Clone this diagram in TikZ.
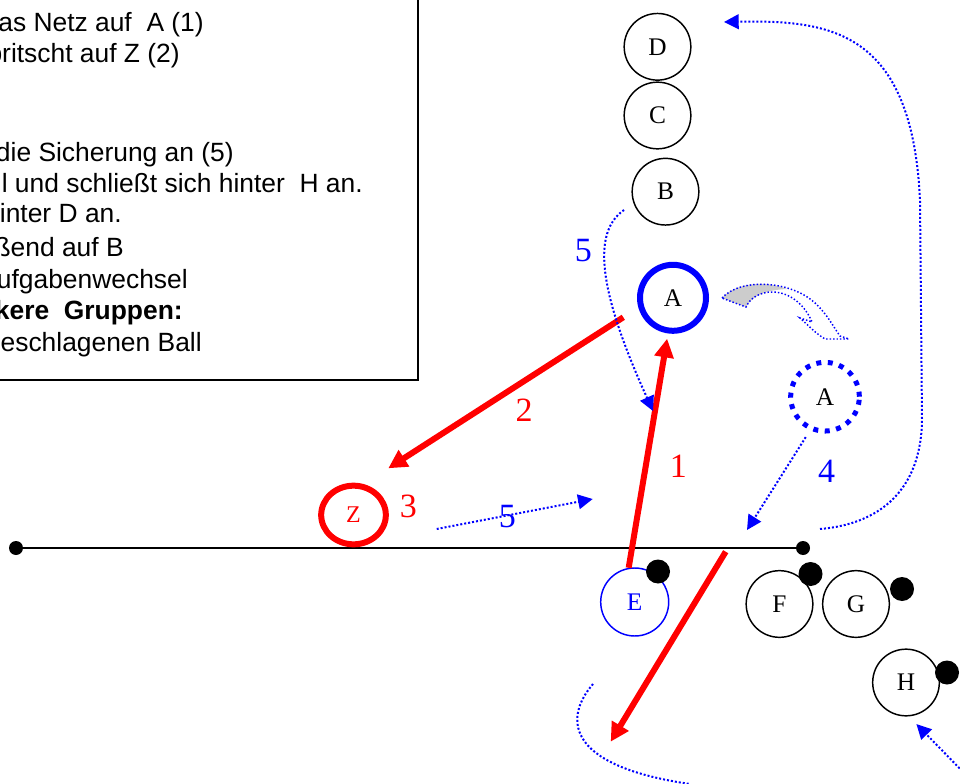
\documentclass[tikz,border=0pt]{standalone}
\usepackage{fontspec}
\setmainfont{Liberation Serif}
\newfontfamily\boxfont{Liberation Sans}
\usetikzlibrary{arrows.meta,shapes.geometric}
\definecolor{myblue}{RGB}{0,0,255}
\definecolor{myred}{RGB}{255,0,0}
\definecolor{shapegray}{RGB}{204,204,204}
\begin{document}
\begin{tikzpicture}[x=0.75pt,y=-0.75pt,
  player/.style={circle,draw=black,line width=1.1pt,minimum size=50pt,inner sep=0pt,font=\fontsize{19}{22}\selectfont},
  ball/.style={circle,fill=black,minimum size=18pt,inner sep=0pt},
  netdot/.style={circle,fill=black,minimum size=10.5pt,inner sep=0pt},
  boxtext/.style={anchor=base east,inner sep=0pt,font=\boxfont\fontsize{19.8}{23}\selectfont},
  redarrow/.style={myred,line width=4.5pt,-{Triangle[length=14pt,width=14pt]}},
  bluearrow/.style={myblue,line width=1.5pt,dash pattern=on 1.5pt off 1.5pt,-{Triangle[length=11pt,width=11pt]}},
  bluedot/.style={myblue,line width=1.5pt,dash pattern=on 1.5pt off 1.5pt},
  numlabel/.style={font=\fontsize{25.5}{28}\selectfont,inner sep=0pt}]
\useasboundingbox (0,0) rectangle (960,784);

% text box
\draw[line width=1.5pt] (-20,-20) rectangle (418,380);
\node[boxtext] (t1) at (204,32) {as Netz auf\ \ A (1)};
\node[boxtext] (t2) at (180,63) {pritscht auf Z (2)};
\node[boxtext] (t3) at (234,162) {die Sicherung an (5)};
\node[boxtext] (t4) at (363,193) {l und schließt sich hinter\ \ H an.};
\node[boxtext] (t5) at (122,223) {inter D an.};
\node[boxtext] (t6) at (124,257) {ßend auf B};
\node[boxtext] (t7) at (188,289) {ufgabenwechsel};
\node[boxtext] (t8) at (183,320) {\bfseries kere\ \ Gruppen:};
\node[boxtext] (t9) at (202,351) {eschlagenen Ball};

% net
\coordinate (netL) at (16,548);
\coordinate (netR) at (803,548);
\draw[line width=2pt] (netL) -- (netR);
\node[netdot] (nL) at (netL) {};
\node[netdot] (nR) at (netR) {};

% gray curved arrow shape
\fill[shapegray] (722,298) .. controls (735,283) and (765,280) .. (787,289) .. controls (765,290) and (752,296) .. (746,307) -- (735,303) -- cycle;
\draw[myblue,line width=1.1pt,dash pattern=on 1.1pt off 1.5pt] (722,298) .. controls (740,278) and (790,280) .. (815,303) .. controls (828,315) and (834,328) .. (840,336) -- (849,339) -- (825,339) .. controls (815,333) and (808,325) .. (800,318) -- (812,322) .. controls (805,305) and (790,292) .. (772,292) .. controls (760,292) and (750,298) .. (746,307) -- (735,303) -- cycle;

% players
\node[player] (D) at (657.5,46.8) {D};
\node[player] (C) at (657.5,115.5) {C};
\node[player] (B) at (665.5,191.7) {B};
\node[player,draw=myblue,line width=4.5pt,minimum size=49.5pt] (A) at (673,297.8) {A};
\node[player,draw=myblue,line width=3.75pt,dash pattern=on 3.75pt off 4.9pt,minimum size=51.5pt] (Ad) at (825,396.7) {A};
\node[player,draw=myblue,text=myblue,minimum size=51pt] (E) at (634.7,602) {E};
\node[player] (F) at (779.5,604) {F};
\node[player] (G) at (856,604) {G};
\node[player] (H) at (906,682.5) {H};
\node[ellipse,draw=myred,text=myred,line width=4.5pt,minimum width=48.5pt,minimum height=44pt,inner sep=0pt,font=\fontsize{18}{20}\selectfont] (Z) at (353.5,515) {Z};

% balls
\node[ball] (bE) at (658,571.5) {};
\node[ball] (bF) at (810.5,574) {};
\node[ball] (bG) at (902,589) {};
\node[ball] (bH) at (947,672.5) {};

% labels
\node[numlabel,text=myblue] (l5a) at (583.3,250.7) {5};
\node[numlabel,text=myred] (l2) at (524,410) {2};
\node[numlabel,text=myred] (l3) at (408.3,506) {3};
\node[numlabel,text=myblue] (l5b) at (507.3,516.7) {5};
\node[numlabel,text=myred] (l1) at (678.3,466.7) {1};
\node[numlabel,text=myblue] (l4) at (826.7,471.7) {4};

% red arrows
\coordinate (r2s) at (623.3,317.3);
\coordinate (r2e) at (388.3,468.3);
\coordinate (r3s) at (725.7,551.7);
\coordinate (r3e) at (610.7,741.7);
\draw[redarrow,shorten >=4pt] (E.100) -- (A.262);
\draw[redarrow] (r2s) -- (r2e);
\draw[redarrow] (r3s) -- (r3e);

% blue dotted arrows
\coordinate (b5s) at (624,210);
\coordinate (b5e) at (653,411);
\draw[bluearrow] (b5s) .. controls (592,232) and (598,290) .. (b5e);
\coordinate (c5s) at (436.7,529);
\coordinate (c5e) at (592.7,499);
\draw[bluearrow] (c5s) -- (c5e);
\coordinate (c4e) at (747,530);
\draw[bluearrow,shorten <=6pt] (Ad.246) -- (c4e);
\coordinate (lps) at (820,529);
\coordinate (lpe) at (724,22);
\draw[bluearrow] (lps) .. controls (880,524) and (921,490) .. (922,420) -- (920,200) .. controls (912,30) and (830,20) .. (lpe);
\coordinate (hs) at (968,777);
\draw[bluearrow,shorten >=8pt] (hs) -- (H.275);
\coordinate (ll1) at (593,684);
\coordinate (ll2) at (690,784);
\draw[bluedot] (ll1) .. controls (566,715) and (560,765) .. (ll2);
\end{tikzpicture}
\end{document}
